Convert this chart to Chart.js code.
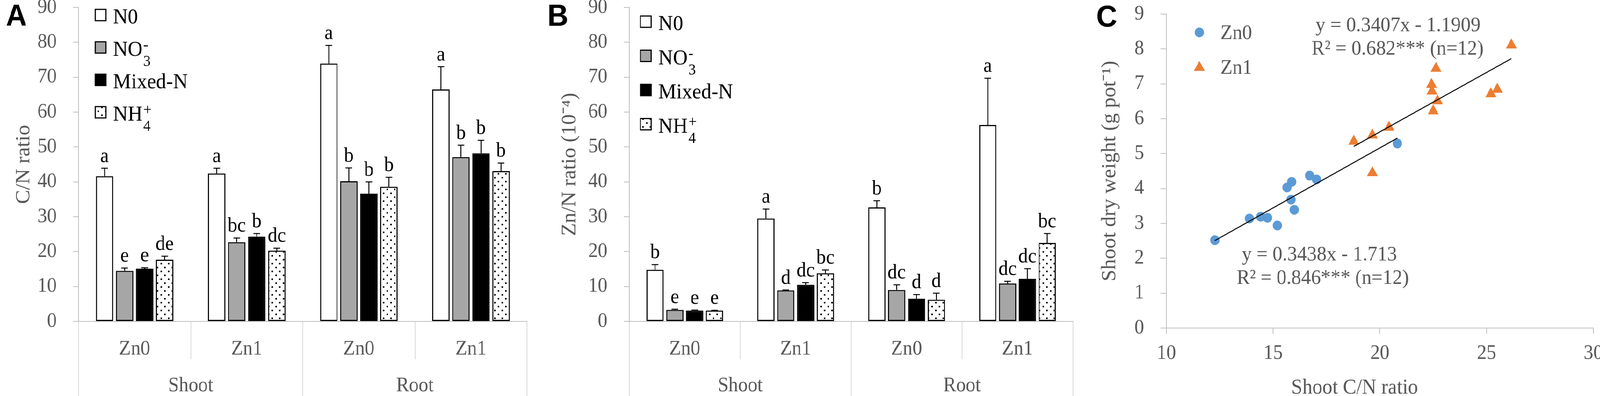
<!DOCTYPE html>
<html>
<head>
<meta charset="utf-8">
<script src="https://cdn.jsdelivr.net/npm/chart.js@4.4.1/dist/chart.umd.min.js"></script>
<style>
html, body { margin: 0; background: #fff; overflow: hidden; }
#wrap { position: relative; width: 4317px; height: 1014px; transform-origin: 0 0; }
canvas { position: absolute; top: 0; }
</style>
</head>
<body>
<div id="wrap">
  <canvas id="graficoA" style="left:0px"></canvas>
  <canvas id="graficoB" style="left:1450px"></canvas>
  <canvas id="graficoC" style="left:2900px"></canvas>
</div>
<script>
// categories
var organs = ['Shoot', 'Root'];
var zincLevels = ['Zn0', 'Zn1', 'Zn0', 'Zn1'];
var treatments = ['N0', 'NO₃⁻', 'Mixed-N', 'NH₄⁺'];
var legendBase = ['N0', 'NO', 'Mixed-N', 'NH'];
var legendSub = ['', '3', '', '4'];
var legendSup = ['', '-', '', '+'];

// panel A: C/N ratio (Shoot Zn0, Shoot Zn1, Root Zn0, Root Zn1)
var cnN0 = [41.6, 42.4, 73.9, 66.5];
var cnNO3 = [14.5, 22.7, 40.2, 47.1];
var cnMixed = [15.1, 24.3, 36.6, 48.2];
var cnNH4 = [17.7, 20.3, 38.6, 43.1];
var cnN0Err = [2.3, 1.5, 5.2, 6.5];
var cnNO3Err = [0.8, 1.2, 3.8, 3.4];
var cnMixedErr = [0.3, 0.9, 3.4, 3.7];
var cnNH4Err = [1.0, 0.7, 2.7, 2.3];
var cnN0Sig = ['a', 'a', 'a', 'a'];
var cnNO3Sig = ['e', 'bc', 'b', 'b'];
var cnMixedSig = ['e', 'b', 'b', 'b'];
var cnNH4Sig = ['de', 'dc', 'b', 'b'];

// panel B: Zn/N ratio (10^-4)
var znN0 = [14.8, 29.5, 32.7, 56.3];
var znNO3 = [3.3, 8.9, 9.0, 10.9];
var znMixed = [3.1, 10.5, 6.5, 12.2];
var znNH4 = [3.1, 13.8, 6.2, 22.5];
var znN0Err = [1.5, 2.7, 1.9, 13.4];
var znNO3Err = [0.2, 0.1, 1.5, 0.6];
var znMixedErr = [0.15, 0.6, 1.2, 2.9];
var znNH4Err = [0.1, 0.95, 1.9, 2.7];
var znN0Sig = ['b', 'a', 'b', 'a'];
var znNO3Sig = ['e', 'd', 'dc', 'dc'];
var znMixedSig = ['e', 'dc', 'd', 'dc'];
var znNH4Sig = ['e', 'bc', 'd', 'bc'];

// panel C: shoot C/N ratio vs shoot dry weight
var zn0X = [12.27, 13.89, 14.42, 14.74, 15.2, 15.65, 15.87, 15.84, 15.99, 16.71, 17.03, 20.82];
var zn0Y = [2.52, 3.14, 3.19, 3.16, 2.94, 4.03, 4.19, 3.68, 3.39, 4.37, 4.26, 5.29];
var zn1X = [26.16, 22.63, 22.42, 22.44, 22.7, 22.5, 25.2, 25.5, 20.43, 19.65, 18.78, 19.65];
var zn1Y = [8.11, 7.44, 6.98, 6.79, 6.51, 6.22, 6.71, 6.84, 5.75, 5.53, 5.35, 4.45];
var zn0Fit = [0.3438, -1.713];
var zn1Fit = [0.3407, -1.1909];
var cTicksY = [0, 9, 1];
var cTicksX = [10, 30, 5];

var serif = '"Liberation Serif", "Times New Roman", serif';
var grayText = '#595959';
var axisGray = '#bfbfbf';

window.addEventListener('load', drawAll);

function dotPattern(ctx) {
  var c = document.createElement('canvas');
  c.width = 20;
  c.height = 20;
  var p = c.getContext('2d');
  p.fillStyle = '#ffffff';
  p.fillRect(0, 0, 20, 20);
  p.fillStyle = '#000000';
  p.fillRect(3, 3, 4, 4);
  p.fillRect(13, 13, 4, 4);
  return ctx.createPattern(c, 'repeat');
}

// error bars, letters, legend and panel letter for bar panels
var barExtras = {
  id: 'barExtras',
  afterDatasetsDraw: function (chart) {
    var ctx = chart.ctx;
    var y = chart.scales.y;
    ctx.save();
    chart.data.datasets.forEach(function (ds, i) {
      var meta = chart.getDatasetMeta(i);
      meta.data.forEach(function (bar, j) {
        var top = y.getPixelForValue(ds.data[j] + ds.errors[j]);
        ctx.strokeStyle = '#000';
        ctx.lineWidth = 2.5;
        ctx.beginPath();
        ctx.moveTo(bar.x, bar.y);
        ctx.lineTo(bar.x, top);
        ctx.moveTo(bar.x - 9, top);
        ctx.lineTo(bar.x + 9, top);
        ctx.stroke();
        ctx.fillStyle = '#000';
        ctx.font = '52px ' + serif;
        ctx.textAlign = 'center';
        ctx.textBaseline = 'alphabetic';
        ctx.fillText(ds.letters[j], bar.x, top - 16);
      });
    });
    ctx.restore();
  },
  afterDraw: function (chart, args, opts) {
    var ctx = chart.ctx;
    ctx.save();
    chart.data.datasets.forEach(function (ds, i) {
      var cy = opts.y0 + i * opts.dy;
      ctx.fillStyle = ds.backgroundColor;
      ctx.fillRect(opts.x, cy - 14, 29, 29);
      ctx.strokeStyle = '#000';
      ctx.lineWidth = 3;
      ctx.strokeRect(opts.x, cy - 14, 29, 29);
      ctx.fillStyle = '#000';
      ctx.textAlign = 'left';
      ctx.textBaseline = 'alphabetic';
      ctx.font = '55px ' + serif;
      var tx = opts.x + 48;
      ctx.fillText(legendBase[i], tx, cy + 22);
      var w = ctx.measureText(legendBase[i]).width;
      ctx.font = '40px ' + serif;
      if (legendSub[i]) ctx.fillText(legendSub[i], tx + w + 2, cy + 48);
      if (legendSup[i]) ctx.fillText(legendSup[i], tx + w + 2, cy + 6);
    });
    ctx.font = 'bold 78px "Liberation Sans", Arial, sans-serif';
    ctx.fillText(opts.letter, opts.letterX, 66);
    ctx.restore();
  }
};

function barPanel(id, width, area, yTitle, titlePad, series, errs, sigs, legendPos, letter, letterX) {
  var canvas = document.getElementById(id);
  canvas.setAttribute('width', width);
  canvas.setAttribute('height', 1014);
  var ctx = canvas.getContext('2d');
  var fills = ['#ffffff', '#a6a6a6', '#000000', dotPattern(ctx)];
  var datasets = series.map(function (vals, i) {
    return {
      label: treatments[i],
      data: vals,
      errors: errs[i],
      letters: sigs[i],
      backgroundColor: fills[i],
      borderColor: '#000000',
      borderWidth: 3,
      borderSkipped: false,
      barPercentage: 0.87,
      categoryPercentage: 0.715
    };
  });
  var tickFont = { family: serif, size: 52 };
  return new Chart(ctx, {
    type: 'bar',
    data: { labels: zincLevels, datasets: datasets },
    options: {
      responsive: false,
      animation: false,
      devicePixelRatio: 1,
      layout: { padding: { left: 0, right: width - area.right, top: area.top, bottom: 0 } },
      plugins: {
        legend: { display: false },
        tooltip: { enabled: false },
        barExtras: { x: legendPos[0], y0: legendPos[1], dy: legendPos[2], letter: letter, letterX: letterX }
      },
      scales: {
        x: {
          type: 'category',
          weight: 0,
          offset: true,
          grid: { offset: true, drawOnChartArea: false, tickLength: 97, color: '#d9d9d9', lineWidth: 2 },
          border: { color: axisGray, width: 2 },
          ticks: { color: grayText, font: tickFont, padding: -57, maxRotation: 0 },
          afterFit: function (s) { s.height = 97; s.paddingLeft = 0; s.paddingRight = 0; }
        },
        x2: {
          type: 'category',
          labels: organs,
          position: 'bottom',
          weight: 1,
          offset: true,
          grid: { offset: true, drawOnChartArea: false, tickLength: 94, color: '#d9d9d9', lineWidth: 2 },
          border: { display: false },
          ticks: { color: grayText, font: tickFont, padding: -57, maxRotation: 0 },
          afterFit: function (s) { s.height = 94; s.paddingLeft = 0; s.paddingRight = 0; }
        },
        y: {
          min: 0,
          max: 90,
          ticks: { stepSize: 10, color: grayText, font: tickFont, padding: 44 },
          grid: { drawOnChartArea: false, tickLength: 15, color: axisGray, lineWidth: 2 },
          border: { color: axisGray, width: 2 },
          title: {
            display: true,
            text: yTitle,
            color: grayText,
            font: { family: serif, size: 54, lineHeight: 1 },
            padding: { top: titlePad, bottom: 0 }
          },
          afterFit: function (s) { s.width = area.left; s.paddingTop = 0; s.paddingBottom = 0; }
        }
      }
    },
    plugins: [barExtras]
  });
}

function pairs(xs, ys) {
  return xs.map(function (x, i) { return { x: x, y: ys[i] }; });
}

function fitLine(xs, fit) {
  var lo = Math.min.apply(null, xs);
  var hi = Math.max.apply(null, xs);
  return [lo, hi].map(function (x) { return { x: x, y: fit[0] * x + fit[1] }; });
}

var scatterExtras = {
  id: 'scatterExtras',
  afterDraw: function (chart, args, opts) {
    var ctx = chart.ctx;
    ctx.save();
    // legend
    ctx.fillStyle = '#5b9bd5';
    ctx.beginPath();
    ctx.arc(opts.legendX, opts.legendY[0], 12.5, 0, Math.PI * 2);
    ctx.fill();
    var r = 17, ty = opts.legendY[1];
    ctx.fillStyle = '#ed7d31';
    ctx.beginPath();
    ctx.moveTo(opts.legendX, ty - r);
    ctx.lineTo(opts.legendX + r * Math.sin(Math.PI / 3), ty + r / 2);
    ctx.lineTo(opts.legendX - r * Math.sin(Math.PI / 3), ty + r / 2);
    ctx.closePath();
    ctx.fill();
    ctx.fillStyle = grayText;
    ctx.font = '53px ' + serif;
    ctx.textAlign = 'left';
    ctx.textBaseline = 'alphabetic';
    ctx.fillText('Zn0', opts.legendX + 57, opts.legendY[0] + 17);
    ctx.fillText('Zn1', opts.legendX + 57, opts.legendY[1] + 16);
    // equations
    ctx.textAlign = 'center';
    opts.equations.forEach(function (eq) {
      ctx.fillText(eq.text, eq.x, eq.y);
    });
    // x axis title, set a bit left of centre as in the figure
    ctx.font = '54px ' + serif;
    ctx.fillText(opts.xTitle, opts.xTitlePos[0], opts.xTitlePos[1]);
    ctx.fillStyle = '#000';
    ctx.textAlign = 'left';
    ctx.font = 'bold 78px "Liberation Sans", Arial, sans-serif';
    ctx.fillText('C', 58, 68);
    ctx.restore();
  }
};

function scatterPanel() {
  var canvas = document.getElementById('graficoC');
  canvas.setAttribute('width', 1417);
  canvas.setAttribute('height', 1014);
  var ctx = canvas.getContext('2d');
  var tickFont = { family: serif, size: 52 };
  return new Chart(ctx, {
    type: 'scatter',
    data: {
      datasets: [
        { type: 'line', label: 'Zn0 fit', data: fitLine(zn0X, zn0Fit), borderColor: '#000', borderWidth: 2.5, pointRadius: 0, order: 0 },
        { type: 'line', label: 'Zn1 fit', data: fitLine(zn1X, zn1Fit), borderColor: '#000', borderWidth: 2.5, pointRadius: 0, order: 0 },
        { label: 'Zn0', data: pairs(zn0X, zn0Y), pointStyle: 'circle', pointRadius: 12.5, backgroundColor: '#5b9bd5', borderWidth: 0, order: 1 },
        { label: 'Zn1', data: pairs(zn1X, zn1Y), pointStyle: 'triangle', pointRadius: 17, backgroundColor: '#ed7d31', borderWidth: 0, order: 1 }
      ]
    },
    options: {
      responsive: false,
      animation: false,
      devicePixelRatio: 1,
      layout: { padding: { left: 0, right: 18, top: 36, bottom: 0 } },
      plugins: {
        legend: { display: false },
        tooltip: { enabled: false },
        scatterExtras: {
          legendX: 336,
          legendY: [83, 173],
          xTitle: 'Shoot C/N ratio',
          xTitlePos: [755, 1008],
          equations: [
            { text: 'y = 0.3407x - 1.1909', x: 872, y: 80 },
            { text: 'R² = 0.682*** (n=12)', x: 871, y: 140 },
            { text: 'y = 0.3438x - 1.713', x: 660, y: 667 },
            { text: 'R² = 0.846*** (n=12)', x: 669, y: 727 }
          ]
        }
      },
      scales: {
        x: {
          type: 'linear',
          min: cTicksX[0],
          max: cTicksX[1],
          ticks: { stepSize: cTicksX[2], color: grayText, font: tickFont, padding: 19 },
          grid: { drawOnChartArea: false, tickLength: 15, color: axisGray, lineWidth: 2 },
          border: { color: axisGray, width: 2 },
          afterFit: function (s) { s.height = 174; s.paddingLeft = 0; s.paddingRight = 0; }
        },
        y: {
          min: cTicksY[0],
          max: cTicksY[1],
          ticks: { stepSize: cTicksY[2], color: grayText, font: tickFont, padding: 44 },
          grid: { drawOnChartArea: false, tickLength: 16, color: axisGray, lineWidth: 2 },
          border: { color: axisGray, width: 2 },
          title: {
            display: true,
            text: 'Shoot dry weight (g pot⁻¹)',
            color: grayText,
            font: { family: serif, size: 54, lineHeight: 1 },
            padding: { top: 68, bottom: 0 }
          },
          afterFit: function (s) { s.width = 247; s.paddingTop = 0; s.paddingBottom = 0; }
        }
      }
    },
    plugins: [scatterExtras]
  });
}

function drawAll() {
  // the window may be narrower than the figure: squeeze it to fit the width
  var sx = Math.min(1, window.innerWidth / 4317);
  document.getElementById('wrap').style.transform = 'scale(' + sx + ', 1)';

  barPanel('graficoA', 1450, { left: 212, right: 1422, top: 19 }, 'C/N ratio', 38,
    [cnN0, cnNO3, cnMixed, cnNH4],
    [cnN0Err, cnNO3Err, cnMixedErr, cnNH4Err],
    [cnN0Sig, cnNO3Sig, cnMixedSig, cnNH4Sig],
    [257, 38, 83], 'A', 16);
  barPanel('graficoB', 1450, { left: 248, right: 1445, top: 19 }, 'Zn/N ratio (10⁻⁴)', 61,
    [znN0, znNO3, znMixed, znNH4],
    [znN0Err, znNO3Err, znMixedErr, znNH4Err],
    [znN0Sig, znNO3Sig, znMixedSig, znNH4Sig],
    [278, 55, 87.5], 'B', 27);
  scatterPanel();
}
</script>
</body>
</html>
